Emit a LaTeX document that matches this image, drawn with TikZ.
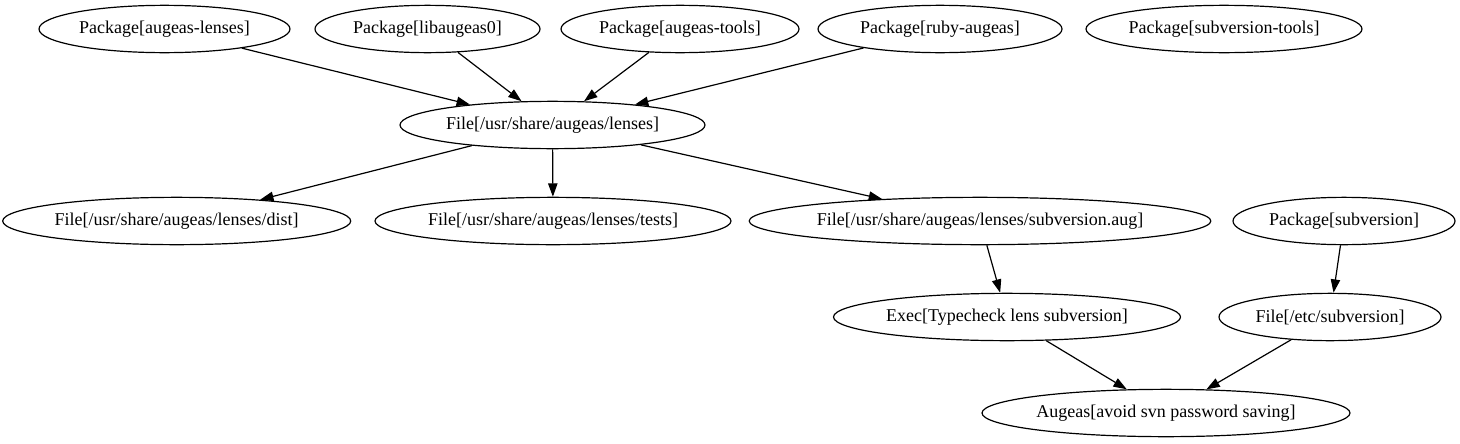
\documentclass[tikz,border=0pt]{standalone}
\usepackage{fontspec}
\setmainfont{Liberation Serif}
\usetikzlibrary{shapes.geometric,arrows.meta}
\begin{document}
\begin{tikzpicture}[x=0.75pt,y=-0.75pt,
  gv/.style={draw,ellipse,inner sep=0pt,minimum height=35.5pt,line width=0.9pt,font=\fontsize{13.5pt}{16pt}\selectfont},
  edge/.style={draw,line width=0.9pt,-{Triangle[length=10pt,width=7pt]}}]
\useasboundingbox (0,0) rectangle (1460,443);
\node[gv,minimum width=188.25pt] (A) at (164.5,29) {Package[augeas-lenses]};
\node[gv,minimum width=168.75pt] (B) at (427.5,29) {Package[libaugeas0]};
\node[gv,minimum width=178.5pt] (C) at (680,29) {Package[augeas-tools]};
\node[gv,minimum width=183pt] (D) at (940,29) {Package[ruby-augeas]};
\node[gv,minimum width=207pt] (E) at (1224,29) {Package[subversion-tools]};
\node[gv,minimum width=228.75pt] (F) at (552.5,125) {File[/usr/share/augeas/lenses]};
\node[gv,minimum width=261pt] (G) at (176.7,221) {File[/usr/share/augeas/lenses/dist]};
\node[gv,minimum width=267pt] (H) at (553,221) {File[/usr/share/augeas/lenses/tests]};
\node[gv,minimum width=340.5pt] (I) at (980,221) {File[/usr/share/augeas/lenses/subversion.aug]};
\node[gv,minimum width=166.5pt] (J) at (1344,221) {Package[subversion]};
\node[gv,minimum width=260.25pt] (K) at (1007,317) {Exec[Typecheck lens subversion]};
\node[gv,minimum width=166.5pt] (L) at (1330,317) {File[/etc/subversion]};
\node[gv,minimum width=276pt] (M) at (1166,413) {Augeas[avoid svn password saving]};
\draw[edge] (A) -- (F);
\draw[edge] (B) -- (F);
\draw[edge] (C) -- (F);
\draw[edge] (D) -- (F);
\draw[edge] (F) -- (G);
\draw[edge] (F) -- (H);
\draw[edge] (F) -- (I);
\draw[edge] (I) -- (K);
\draw[edge] (J) -- (L);
\draw[edge] (K) -- (M);
\draw[edge] (L) -- (M);
\end{tikzpicture}
\end{document}
